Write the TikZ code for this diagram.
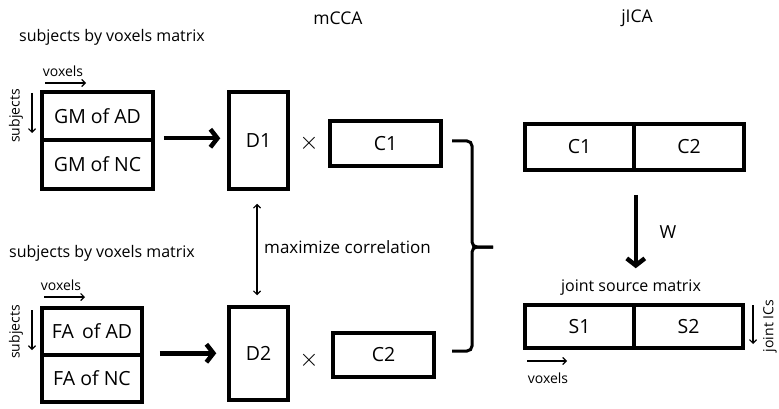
\documentclass[tikz,border=0pt]{standalone}
\usepackage{fontspec}
\setmainfont{Open Sans}
\usetikzlibrary{arrows.meta,calc}
\begin{document}
\begin{tikzpicture}[x=1pt,y=-1pt,
  cell/.style={draw,line width=3.5pt,inner sep=0pt,font=\fontsize{19.5}{22}\selectfont},
  lbl/.style={inner sep=0pt,font=\fontsize{16}{18}\selectfont},
  small/.style={inner sep=0pt,font=\fontsize{14}{16}\selectfont},
  times/.style={inner sep=0pt,font=\fontsize{24}{26}\selectfont},
  bigarrow/.style={line width=4.5pt,-{Straight Barb[length=7pt,width=18pt]}},
  thinarrow/.style={line width=1.2pt,-{Straight Barb[length=3.5pt,width=7pt]}},
  dblarrow/.style={line width=1.2pt,{Straight Barb[length=3.5pt,width=7pt]}-{Straight Barb[length=3.5pt,width=7pt]}}]
\useasboundingbox (0,0) rectangle (779,409);
% headings
\node[lbl,font=\fontsize{17.5}{20}\selectfont] (mcca) at (338,18) {mCCA};
\node[lbl,font=\fontsize{17.5}{20}\selectfont] (jica) at (637,18) {jICA};
% top-left matrix
\node[lbl] (t1) at (112,37) {subjects by voxels matrix};
\node[small] (vx1) at (63,71) {voxels};
\coordinate (vx1a) at (45,83); \coordinate (vx1b) at (86,83);
\draw[thinarrow] (vx1a) -- (vx1b);
\node[small,rotate=90] (sb1) at (16,116) {subjects};
\coordinate (sb1a) at (32,93); \coordinate (sb1b) at (32,133);
\draw[thinarrow] (sb1a) -- (sb1b);
\node[cell,minimum width=111pt,minimum height=48pt] (gmad) at (97.5,116) {GM of AD};
\node[cell,minimum width=111pt,minimum height=49pt] (gmnc) at (97.5,164.5) {GM of NC};
% bottom-left matrix
\node[lbl] (t2) at (102,253) {subjects by voxels matrix};
\node[small] (vx2) at (61,285) {voxels};
\coordinate (vx2a) at (44,297); \coordinate (vx2b) at (85,297);
\draw[thinarrow] (vx2a) -- (vx2b);
\node[small,rotate=90] (sb2) at (16,332) {subjects};
\coordinate (sb2a) at (32,310); \coordinate (sb2b) at (32,350);
\draw[thinarrow] (sb2a) -- (sb2b);
\node[cell,minimum width=100pt,minimum height=47pt] (faad) at (92,331.5) {FA\, of AD};
\node[cell,minimum width=100pt,minimum height=47pt] (fanc) at (92,378.5) {FA of NC};
% mCCA
\node[cell,minimum width=59pt,minimum height=97pt] (d1) at (258.5,140.5) {D1};
\node[cell,minimum width=59pt,minimum height=93pt] (d2) at (258.5,353.5) {D2};
\node[cell,minimum width=111pt,minimum height=45pt] (c1) at (385.5,143.5) {C1};
\node[cell,minimum width=101pt,minimum height=44pt] (c2) at (383.5,355) {C2};
\node[times] (x1) at (309,143) {$\times$};
\node[times] (x2) at (309,360) {$\times$};
\draw[bigarrow,shorten <=9pt,shorten >=7pt] (gmnc.north east) -- (d1.west |- gmnc.north east);
\draw[bigarrow,shorten <=16pt,shorten >=11pt] (fanc.north east) -- (d2.west |- fanc.north east);
\draw[dblarrow,shorten <=13pt,shorten >=10pt] ($(d1.south)+(-1.5,0)$) -- ($(d2.north)+(-1.5,0)$);
\node[lbl,anchor=west,font=\fontsize{17}{19}\selectfont] (mc) at (264,247) {maximize correlation};
% brace
\coordinate (bt) at (452,141); \coordinate (bb) at (452,351); \coordinate (bm) at (493,247);
\draw[line width=3pt,rounded corners=5pt] (bt) -- (472,141) -- (472,247) -- (bm);
\draw[line width=3pt,rounded corners=5pt] (bb) -- (472,351) -- (472,247) -- (bm);
% jICA
\node[cell,minimum width=109pt,minimum height=46pt] (c1r) at (579.5,147) {C1};
\node[cell,minimum width=110pt,minimum height=46pt] (c2r) at (689,147) {C2};
\node[cell,minimum width=109pt,minimum height=43pt] (s1) at (579.5,326.5) {S1};
\node[cell,minimum width=109pt,minimum height=43pt] (s2) at (688.5,326.5) {S2};
\draw[bigarrow,shorten <=23pt,shorten >=35pt] (c1r.south east) -- (s1.north east);
\node[lbl,font=\fontsize{18}{20}\selectfont] (w) at (668,232) {W};
\node[lbl] (jsm) at (631,288) {joint source matrix};
\node[small,rotate=90] (jic) at (770,326) {joint ICs};
\coordinate (jica1) at (753,305); \coordinate (jica2) at (753,344);
\draw[thinarrow] (jica1) -- (jica2);
\coordinate (vx3a) at (527,361); \coordinate (vx3b) at (567,361);
\draw[thinarrow] (vx3a) -- (vx3b);
\node[small] (vx3) at (548,378) {voxels};
\end{tikzpicture}
\end{document}
